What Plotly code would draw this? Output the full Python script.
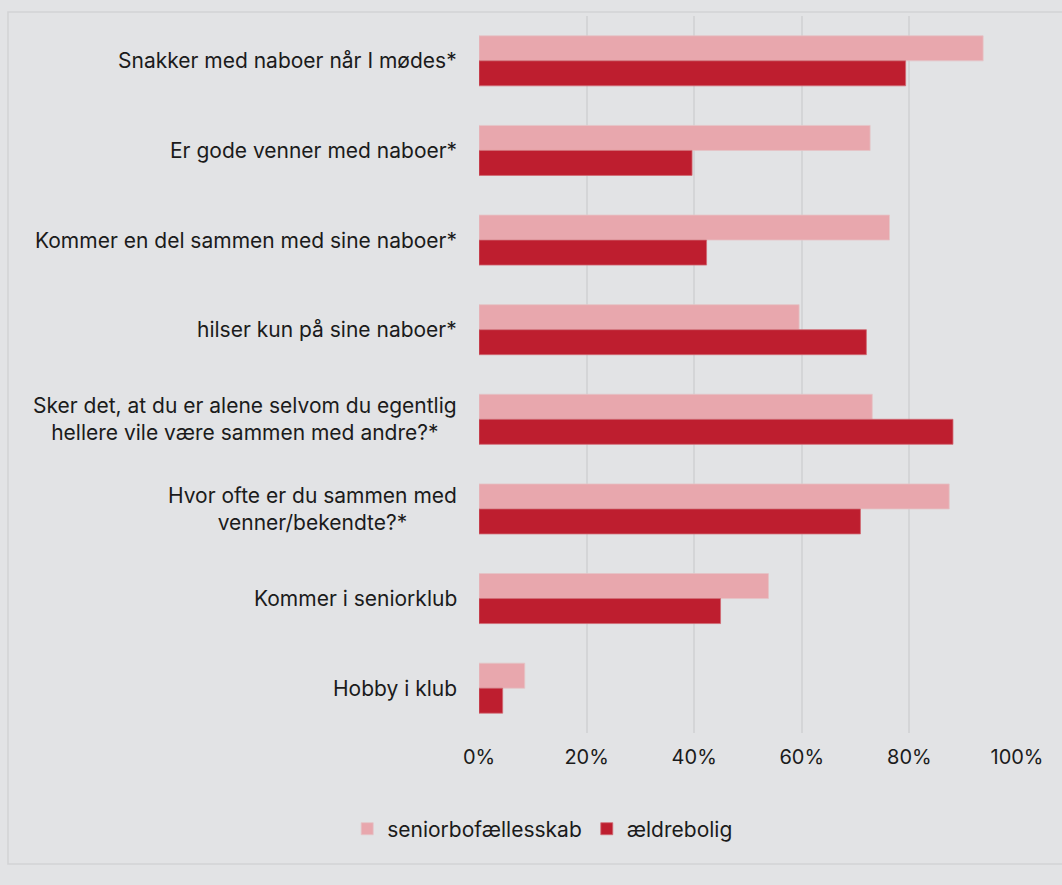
import plotly.graph_objects as go

categories = [
    "Snakker med naboer når I mødes*",
    "Er gode venner med naboer*",
    "Kommer en del sammen med sine naboer*",
    "hilser kun på sine naboer*",
    "Sker det, at du er alene selvom du egentlig<br>hellere vile være sammen med andre?*",
    "Hvor ofte er du sammen med<br>venner/bekendte?*",
    "Kommer i seniorklub",
    "Hobby i klub",
]
seniorbofaellesskab = [0.937, 0.727, 0.763, 0.595, 0.731, 0.874, 0.538, 0.085]
aeldrebolig = [0.793, 0.396, 0.423, 0.720, 0.881, 0.709, 0.449, 0.044]
series_names = ["seniorbofællesskab", "ældrebolig"]
x_ticks = [0, 0.2, 0.4, 0.6, 0.8, 1.0]

LIGHT = "#e8a7ad"
DARK = "#be1e2f"
BG = "#e2e3e5"
TXT = "#1b1b1b"
FONT = "Inter, Roboto, sans-serif"

fig = go.Figure()
fig.add_trace(go.Bar(
    y=categories, x=seniorbofaellesskab, orientation="h", name=series_names[0],
    marker=dict(color=LIGHT, line=dict(width=0.8, color="#e4c4c7")),
))
fig.add_trace(go.Bar(
    y=categories, x=aeldrebolig, orientation="h", name=series_names[1],
    marker=dict(color=DARK, line=dict(width=0.8, color="#d06a74")),
))

for c in categories:
    fig.add_annotation(
        x=0, xref="paper", y=c, yref="y", text=c, showarrow=False,
        xanchor="right", yanchor="middle", align="center", xshift=-20,
        font=dict(family=FONT, size=21, color=TXT),
    )

# outer frame
fig.add_shape(type="rect", xref="paper", yref="paper",
              x0=-0.8755, x1=1.0985, y0=-0.1827, y1=1.0056,
              line=dict(color="#d2d3d5", width=1.5), fillcolor="rgba(0,0,0,0)",
              layer="below")

fig.update_layout(
    width=1062, height=885,
    margin=dict(l=479, r=45, t=16, b=152),
    paper_bgcolor=BG, plot_bgcolor=BG,
    barmode="group", bargap=0.442, bargroupgap=0,
    font=dict(family=FONT, size=20, color=TXT),
    showlegend=True,
    legend=dict(orientation="h", x=-0.245, xanchor="left", y=-0.134, yanchor="middle",
                font=dict(family=FONT, size=21, color=TXT), bgcolor="rgba(0,0,0,0)",
                itemwidth=30, traceorder="normal"),
    xaxis=dict(range=[0, 1], tickvals=x_ticks, tickformat=".0%",
               showgrid=True, gridcolor="#d4d5d7", gridwidth=1.5,
               zeroline=False, showline=False, ticks="outside", ticklen=6,
               tickcolor="rgba(0,0,0,0)", tickfont=dict(family=FONT, size=20, color=TXT),
               fixedrange=True),
    yaxis=dict(autorange="reversed", showticklabels=False, showgrid=False,
               zeroline=False, showline=False, fixedrange=True),
)

fig.write_html("out.html", config={"displayModeBar": False},
               post_script="document.body.style.margin='0';document.body.style.background='#e2e3e5';")
